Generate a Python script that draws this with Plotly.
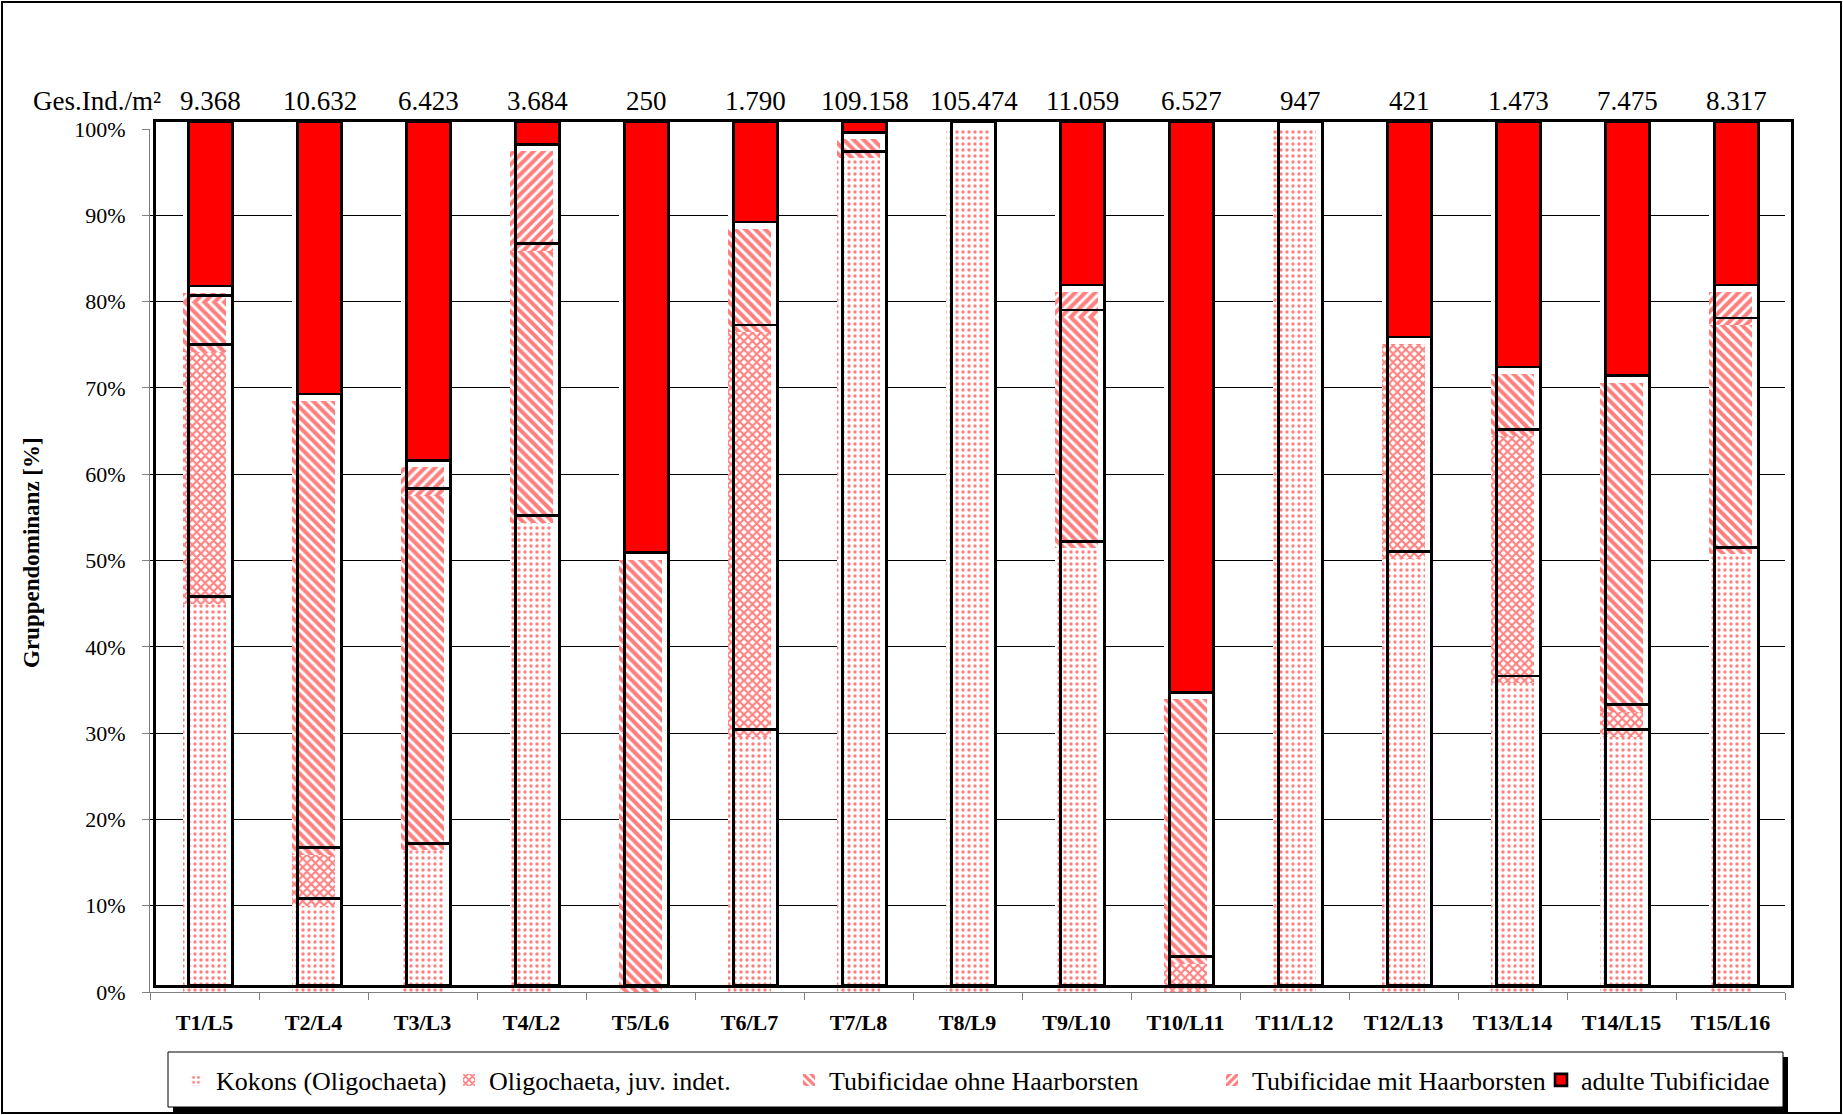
import plotly.graph_objects as go

# ---------------- data (percent of individuals per group) ----------------
categories = ["T1/L5", "T2/L4", "T3/L3", "T4/L2", "T5/L6", "T6/L7", "T7/L8", "T8/L9",
              "T9/L10", "T10/L11", "T11/L12", "T12/L13", "T13/L14", "T14/L15", "T15/L16"]
ind_per_m2 = ["9.368", "10.632", "6.423", "3.684", "250", "1.790", "109.158", "105.474",
              "11.059", "6.527", "947", "421", "1.473", "7.475", "8.317"]

kokons    = [45.0, 10.0, 16.4, 54.4, 0.0, 29.6, 96.6, 100.0, 51.4, 0.0, 100.0, 50.2, 35.8, 29.6, 50.7]
juv_indet = [29.2, 5.9, 0.0, 0.0, 0.0, 46.9, 0.0, 0.0, 0.0, 3.3, 0.0, 24.9, 28.6, 2.9, 0.0]
ohne_haar = [5.7, 52.6, 41.1, 31.5, 50.1, 11.9, 2.2, 0.0, 26.8, 30.6, 0.0, 0.0, 7.2, 38.1, 26.6]
mit_haar  = [1.1, 0.0, 3.3, 11.5, 0.0, 0.0, 0.0, 0.0, 2.9, 0.0, 0.0, 0.0, 0.0, 0.0, 3.8]
adulte    = [19.0, 31.5, 39.2, 2.6, 49.9, 11.6, 1.2, 0.0, 18.9, 66.1, 0.0, 24.9, 28.4, 29.4, 18.9]

series_names = ["Kokons (Oligochaeta)", "Oligochaeta, juv. indet.",
                "Tubificidae ohne Haarborsten", "Tubificidae mit Haarborsten",
                "adulte Tubificidae"]
series_values = [kokons, juv_indet, ohne_haar, mit_haar, adulte]

y_ticks = list(range(0, 101, 10))
y_ticktext = [f"{v}%" for v in y_ticks]

# ---------------- layout geometry ----------------
W, H = 1843, 1115
FONT = "Liberation Serif, Times New Roman, serif"
RED = "#FF0000"


def xd(px):
    return px / W


def yd(py):
    return 1 - py / H


# pattern frame (axes, grid, hatched fills) and box frame (outlines, red fill);
# the box frame sits a few pixels right/up of the pattern frame as in the original
PAT = dict(x0=150, x1=1785, top=129, bot=992)
BOX = dict(x0=156, x1=1791, top=122, bot=985)
CAT_PX = (PAT["x1"] - PAT["x0"]) / len(categories)
BAR_W = 0.4
SHIFT_X = (BOX["x0"] - PAT["x0"]) / CAT_PX

pat_xdom = [xd(PAT["x0"]), xd(PAT["x1"])]
pat_ydom = [yd(PAT["bot"]), yd(PAT["top"])]
box_xdom = [xd(BOX["x0"]), xd(BOX["x1"])]
box_ydom = [yd(BOX["bot"]), yd(BOX["top"])]

patterns = [
    dict(shape=".", size=6, solidity=0.25),
    dict(shape="x", size=6, solidity=0.58),
    dict(shape="\\", size=7, solidity=0.58),
    dict(shape="/", size=7, solidity=0.58),
]
legend_ids = ["legend", "legend2", "legend3", "legend4", "legend5"]
legend_text_x = [216, 489, 829, 1252, 1581]

fig = go.Figure()

# subplot 1 (pattern frame, carries grid + visible axes): white column interiors
totals = [sum(v) for v in zip(*series_values)]
fig.add_trace(go.Bar(x=categories, y=totals, xaxis="x", yaxis="y",
                     width=BAR_W + SHIFT_X, offset=-BAR_W / 2,
                     marker=dict(color="white", line=dict(width=0)),
                     showlegend=False, hoverinfo="skip"))

# subplot 2 (pattern frame): hatched fills
for i, (name, vals, pat) in enumerate(zip(series_names[:4], series_values[:4], patterns)):
    fig.add_trace(go.Bar(
        x=categories, y=vals, name=name, xaxis="x2", yaxis="y2", width=BAR_W,
        marker=dict(color="white", line=dict(width=0),
                    pattern=dict(shape=pat["shape"], fgcolor=RED, bgcolor="white",
                                 size=pat["size"], solidity=pat["solidity"])),
        showlegend=True, legend=legend_ids[i]))

# subplot 3 (box frame): black outlines, solid red for adult Tubificidae
for i, (name, vals) in enumerate(zip(series_names, series_values)):
    is_red = i == 4
    fig.add_trace(go.Bar(
        x=categories, y=vals, name=name, xaxis="x3", yaxis="y3", width=BAR_W,
        marker=dict(color=RED if is_red else "rgba(0,0,0,0)",
                    line=dict(color="black", width=2.6)),
        showlegend=is_red, legend=legend_ids[4]))

legend_common = dict(orientation="h", xanchor="left", y=yd(1080), yanchor="middle",
                     bgcolor="rgba(0,0,0,0)", borderwidth=0,
                     font=dict(family=FONT, size=26, color="black"))
legends = {}
for lid, tx in zip(legend_ids, legend_text_x):
    legends[lid] = dict(x=xd(tx - 40), **legend_common)

hidden = dict(visible=False, range=[0, 100])
hidden_x = dict(visible=False, type="category", range=[-0.5, 14.5])

fig.update_layout(
    width=W, height=H,
    margin=dict(l=0, r=0, t=0, b=0, autoexpand=False),
    paper_bgcolor="white", plot_bgcolor="rgba(0,0,0,0)",
    barmode="stack",
    font=dict(family=FONT, color="black"),
    xaxis=dict(domain=pat_xdom, anchor="y", type="category", range=[-0.5, 14.5],
               tickson="boundaries", ticks="outside", ticklen=7, tickcolor="#808080",
               showline=True, linecolor="#808080", linewidth=1, showgrid=False,
               tickfont=dict(family=FONT, size=22, weight="bold", color="black"),
               ticklabelstandoff=11, automargin=False),
    yaxis=dict(domain=pat_ydom, anchor="x", range=[0, 100], tickmode="array",
               tickvals=y_ticks, ticktext=y_ticktext, ticks="outside", ticklen=7,
               tickcolor="#808080", showline=True, linecolor="#808080", linewidth=1,
               showgrid=True, gridcolor="#000000", gridwidth=1, zeroline=False,
               tickfont=dict(family=FONT, size=22, color="black"),
               ticklabelstandoff=12, automargin=False),
    xaxis2=dict(domain=pat_xdom, anchor="y2", **hidden_x),
    yaxis2=dict(domain=pat_ydom, anchor="x2", **hidden),
    xaxis3=dict(domain=box_xdom, anchor="y3", type="category", range=[-0.5, 14.5],
                showline=True, mirror=True, linecolor="black", linewidth=2.6,
                showticklabels=False, ticks="", showgrid=False, zeroline=False),
    yaxis3=dict(domain=box_ydom, anchor="x3", range=[0, 100],
                showline=True, mirror=True, linecolor="black", linewidth=2.6,
                showticklabels=False, ticks="", showgrid=False, zeroline=False),
    showlegend=True,
    **legends,
)

annotations = [dict(x=xd(97), y=yd(101), xref="paper", yref="paper",
                    text="Ges.Ind./m²", showarrow=False, xanchor="center", yanchor="middle",
                    font=dict(family=FONT, size=27, color="black"))]
for cat, txt in zip(categories, ind_per_m2):
    annotations.append(dict(x=cat, y=yd(101), xref="x3", yref="paper", text=txt,
                            showarrow=False, xanchor="center", yanchor="middle",
                            font=dict(family=FONT, size=27, color="black")))
annotations.append(dict(x=xd(32), y=yd(553), xref="paper", yref="paper",
                        text="<b>Gruppendominanz [%]</b>", textangle=-90, showarrow=False,
                        xanchor="center", yanchor="middle",
                        font=dict(family=FONT, size=23, color="black")))
fig.update_layout(annotations=annotations)

shapes = [
    # outer chart border
    dict(type="rect", xref="paper", yref="paper", x0=xd(2), x1=xd(1841), y0=yd(1113), y1=yd(2),
         line=dict(color="black", width=2), fillcolor="rgba(0,0,0,0)", layer="above"),
    # legend shadow and box
    dict(type="rect", xref="paper", yref="paper", x0=xd(173), x1=xd(1788), y0=yd(1112), y1=yd(1057),
         line=dict(width=0), fillcolor="black", layer="above"),
    dict(type="rect", xref="paper", yref="paper", x0=xd(168), x1=xd(1783), y0=yd(1107), y1=yd(1052),
         line=dict(color="black", width=1), fillcolor="white", layer="above"),
]
fig.update_layout(shapes=shapes)

# the page body gets no default margin so the figure fills the window exactly
fig.write_html("out.html", config={"displayModeBar": False},
               post_script="document.body.style.margin='0';document.body.style.overflow='hidden';")
